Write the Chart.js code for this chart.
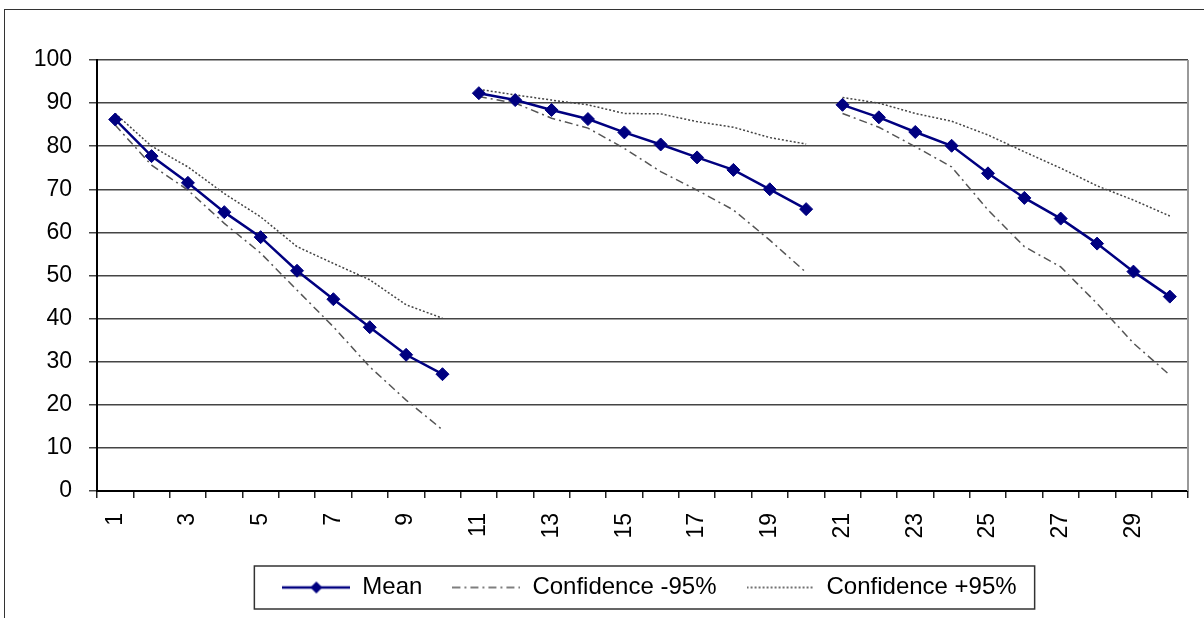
<!DOCTYPE html>
<html>
<head>
<meta charset="utf-8">
<script src="https://cdn.jsdelivr.net/npm/chart.js@4/dist/chart.umd.min.js"></script>
<style>
  html, body { margin: 0; padding: 0; background: #fff; overflow: hidden; }
  #wrap { position: relative; width: 1204px; height: 618px; }
  #frame { position: absolute; left: 4px; top: 9px; width: 1220px; height: 640px; border: 1.5px solid #333; }
  #box { position: absolute; left: 0; top: 0; width: 1204px; height: 618px; }
</style>
</head>
<body>
<div id="wrap">
  <div id="frame"></div>
  <div id="box"><canvas id="chart" width="1204" height="618"></canvas></div>
</div>
<script>
const labels = ['1','2','3','4','5','6','7','8','9','10','11','12','13','14','15',
                '16','17','18','19','20','21','22','23','24','25','26','27','28','29','30'];
const mean  = [86.2, 77.7, 71.5, 64.7, 58.9, 51.1, 44.5, 38.0, 31.6, 27.1,
               92.3, 90.7, 88.4, 86.3, 83.2, 80.4, 77.4, 74.5, 70.0, 65.4,
               89.6, 86.7, 83.3, 80.1, 73.7, 68.0, 63.2, 57.4, 50.9, 45.1];
const lower = [84.9, 75.6, 69.8, 62.1, 55.2, 46.6, 38.1, 28.8, 21.1, 14.2,
               91.5, 90.0, 86.5, 84.2, 79.5, 74.1, 69.8, 65.2, 58.2, 50.7,
               87.6, 84.4, 79.9, 75.2, 65.2, 56.7, 52.0, 43.5, 34.3, 26.9];
const upper = [87.6, 80.0, 75.2, 69.0, 63.6, 56.7, 52.8, 49.0, 43.2, 40.1,
               93.2, 91.9, 90.7, 89.6, 87.6, 87.5, 85.7, 84.4, 82.0, 80.5,
               91.3, 90.0, 87.6, 85.8, 82.6, 78.7, 74.9, 70.8, 67.5, 63.8];
const seriesNames = ['Mean', 'Confidence -95%', 'Confidence +95%'];
// the curve is not joined across these category numbers (end of each block)
const breaks = [10, 20];

const FONT = "'Liberation Sans', Arial, sans-serif";
const NAVY = '#000080';

// no line between blocks
const gap = ctx => breaks.includes(ctx.p0DataIndex + 1) ? 'rgba(0,0,0,0)' : undefined;

// little legend samples
function sample(kind) {
  const c = document.createElement('canvas');
  c.width = 68; c.height = 16;
  const g = c.getContext('2d');
  g.beginPath();
  g.moveTo(0, 8); g.lineTo(68, 8);
  if (kind === 0) {
    g.strokeStyle = NAVY; g.lineWidth = 2.5; g.stroke();
    g.beginPath();
    g.moveTo(34 - 6, 8); g.lineTo(34, 2); g.lineTo(34 + 6, 8); g.lineTo(34, 14); g.closePath();
    g.fillStyle = NAVY; g.fill();
  } else if (kind === 1) {
    g.strokeStyle = '#555'; g.lineWidth = 1.5; g.setLineDash([8, 4, 2, 4]); g.stroke();
  } else {
    g.strokeStyle = '#444'; g.lineWidth = 1.5; g.setLineDash([2, 2]); g.stroke();
  }
  return c;
}
const samples = [sample(0), sample(1), sample(2)];

const extras = {
  id: 'extras',
  afterLayout(chart) {
    // the legend sits a little right of the plot centre
    chart.legend.left += 7;
    chart.legend.right += 7;
  },
  afterDraw(chart) {
    const ctx = chart.ctx;
    const a = chart.chartArea;
    ctx.save();
    // right side of the plot area
    ctx.strokeStyle = '#999';
    ctx.lineWidth = 2;
    ctx.beginPath();
    ctx.moveTo(a.right, a.top);
    ctx.lineTo(a.right, a.bottom);
    ctx.stroke();
    // frame round the legend
    const lg = chart.legend;
    if (lg && lg.legendHitBoxes.length) {
      const hb = lg.legendHitBoxes;
      const l = Math.min(...hb.map(h => h.left)) - 28;
      const r = Math.max(...hb.map(h => h.left + h.width)) + 18;
      const mid = hb[0].top + hb[0].height / 2;
      ctx.strokeStyle = '#333';
      ctx.lineWidth = 1.5;
      ctx.strokeRect(l, mid - 21.5, r - l, 43);
    }
    ctx.restore();
  }
};

new Chart(document.getElementById('chart'), {
  type: 'line',
  data: {
    labels: labels,
    datasets: [
      {
        label: seriesNames[0],
        data: mean,
        borderColor: NAVY,
        backgroundColor: NAVY,
        borderWidth: 2.5,
        pointStyle: 'rectRot',
        pointRadius: 6.5,
        pointBorderWidth: 1,
        pointBackgroundColor: NAVY,
        pointBorderColor: NAVY,
        segment: { borderColor: gap },
        order: 0
      },
      {
        label: seriesNames[1],
        data: lower,
        borderColor: '#555',
        borderWidth: 1.5,
        borderDash: [8, 4, 2, 4],
        pointRadius: 0,
        segment: { borderColor: gap },
        order: 1
      },
      {
        label: seriesNames[2],
        data: upper,
        borderColor: '#444',
        borderWidth: 1.5,
        borderDash: [2, 2],
        pointRadius: 0,
        segment: { borderColor: gap },
        order: 2
      }
    ]
  },
  options: {
    responsive: false,
    animation: false,
    layout: { padding: { top: 60, right: 16, bottom: 8.5, left: 0 } },
    scales: {
      x: {
        type: 'category',
        offset: true,
        afterFit: s => { s.height = 54.5; s.paddingLeft = 0; s.paddingRight = 0; },
        grid: {
          display: true,
          offset: true,
          drawOnChartArea: false,
          drawTicks: true,
          tickLength: 7,
          color: '#222',
          lineWidth: 1.5
        },
        border: { color: '#000', width: 2 },
        ticks: {
          autoSkip: false,
          maxRotation: 90,
          minRotation: 90,
          padding: 15,
          color: '#000',
          font: { family: FONT, size: 23 },
          callback: (v, i) => (i % 2 === 0 ? labels[i] : '')
        }
      },
      y: {
        min: 0,
        max: 100,
        afterFit: s => { s.width = 97; },
        grid: {
          color: '#444',
          lineWidth: 1.5,
          tickLength: 8
        },
        border: { color: '#000', width: 2 },
        ticks: {
          stepSize: 10,
          padding: 17,
          color: '#000',
          font: { family: FONT, size: 23 }
        }
      }
    },
    plugins: {
      tooltip: { enabled: false },
      legend: {
        position: 'bottom',
        fullSize: false,
        labels: {
          usePointStyle: true,
          pointStyleWidth: 68,
          padding: 30,
          color: '#000',
          font: { family: FONT, size: 24 },
          generateLabels: chart => seriesNames.map((name, i) => ({
            text: name,
            datasetIndex: i,
            pointStyle: samples[i],
            fillStyle: 'rgba(0,0,0,0)',
            strokeStyle: 'rgba(0,0,0,0)',
            lineWidth: 0,
            hidden: false
          }))
        }
      }
    }
  },
  plugins: [extras]
});
</script>
</body>
</html>
